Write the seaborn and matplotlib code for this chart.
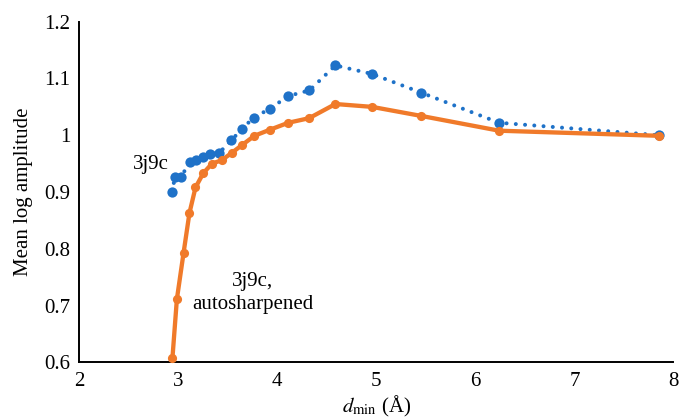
import matplotlib
matplotlib.use("Agg")
import matplotlib.pyplot as plt
import seaborn as sns
import pandas as pd

# Data
d_min_plain = [2.937, 2.971, 3.028, 3.122, 3.183, 3.251, 3.325, 3.416, 3.537, 3.645,
               3.762, 3.931, 4.110, 4.326, 4.588, 4.957, 5.455, 6.240, 7.857]
amp_plain = [0.900, 0.927, 0.927, 0.952, 0.956, 0.961, 0.967, 0.969, 0.991, 1.011,
             1.031, 1.047, 1.069, 1.079, 1.123, 1.108, 1.075, 1.022, 1.000]

d_min_sharp = [2.943, 2.988, 3.055, 3.115, 3.176, 3.254, 3.342, 3.441, 3.542, 3.648,
               3.770, 3.931, 4.113, 4.322, 4.588, 4.957, 5.455, 6.240, 7.857]
amp_sharp = [0.607, 0.711, 0.792, 0.863, 0.908, 0.933, 0.950, 0.956, 0.969, 0.983,
             0.999, 1.010, 1.022, 1.030, 1.055, 1.050, 1.034, 1.008, 0.999]

x_ticks = [2, 3, 4, 5, 6, 7, 8]
y_ticks = [0.6, 0.7, 0.8, 0.9, 1.0, 1.1, 1.2]
y_tick_labels = ["0.6", "0.7", "0.8", "0.9", "1", "1.1", "1.2"]

label_plain = "3j9c"
label_sharp = "3j9c,\nautosharpened"

BLUE = "#1f72c8"
ORANGE = "#f07a2a"

sns.set_theme(style="white")
plt.rcParams["font.family"] = ["Liberation Serif", "DejaVu Serif"]
plt.rcParams["mathtext.fontset"] = "stix"

df_plain = pd.DataFrame({"d": d_min_plain, "amp": amp_plain})
df_sharp = pd.DataFrame({"d": d_min_sharp, "amp": amp_sharp})

fig = plt.figure(figsize=(6.82, 4.2), dpi=100)
ax = fig.add_axes([0.1158, 0.1374, 0.8717, 0.8109])

sns.lineplot(data=df_plain, x="d", y="amp", ax=ax, sort=False, color=BLUE,
             linewidth=2.9, linestyle=(0, (0.001, 2.3)), dash_capstyle="round",
             marker="o", markersize=7.4, markeredgewidth=0, clip_on=False, zorder=2)
sns.lineplot(data=df_sharp, x="d", y="amp", ax=ax, sort=False, color=ORANGE,
             linewidth=3.1, marker="o", markersize=6.6, markeredgewidth=0,
             clip_on=False, zorder=3)

ax.set_xlim(2, 8)
ax.set_ylim(0.6, 1.2)
ax.set_xticks(x_ticks)
ax.set_xticklabels([str(t) for t in x_ticks])
ax.set_yticks(y_ticks)
ax.set_yticklabels(y_tick_labels)

for side in ["top", "right"]:
    ax.spines[side].set_visible(False)
for side in ["left", "bottom"]:
    ax.spines[side].set_color("black")
    ax.spines[side].set_linewidth(1.4)

ax.tick_params(axis="both", direction="in", length=5, width=1.4, colors="black",
               labelsize=15, labelcolor="black", pad=7)
ax.tick_params(axis="y", pad=6)

ax.set_xlabel(r"$d_{\mathrm{min}}$ (Å)", fontsize=15, color="black", labelpad=2)
ax.set_ylabel("Mean log amplitude", fontsize=15, color="black", labelpad=8)

fig.text(151 / 682, 1 - 164 / 420, label_plain, ha="center", va="center",
         fontsize=15, color="black")
fig.text(253 / 682, 1 - 293 / 420, label_sharp, ha="center", va="center",
         fontsize=15, color="black", linespacing=1.25)

ax.grid(False)
fig.savefig("out.png", dpi=100, facecolor="white")
